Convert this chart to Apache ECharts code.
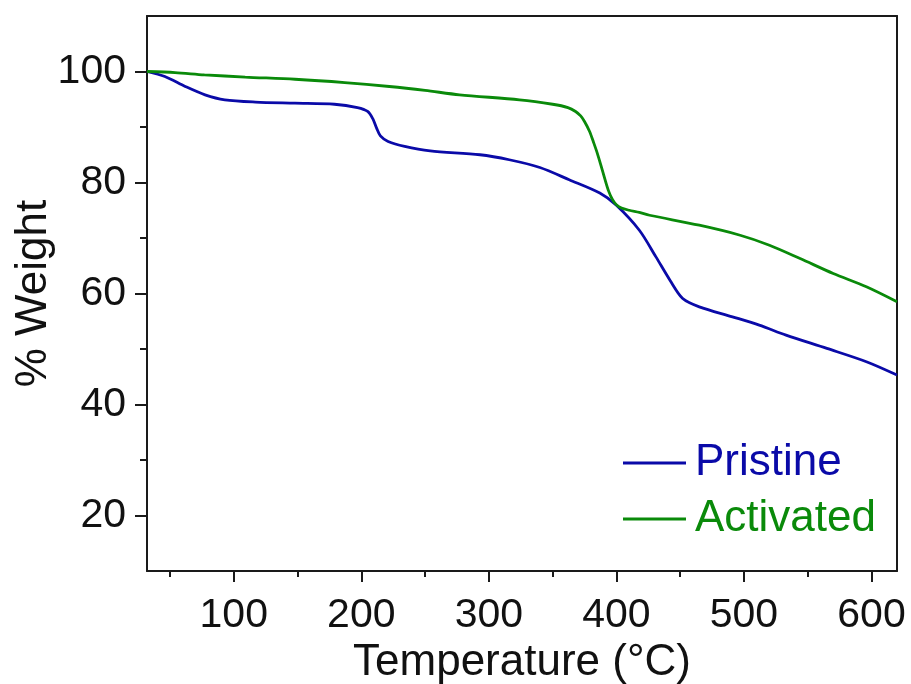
<!DOCTYPE html>
<html>
<head>
<meta charset="utf-8">
<script src="https://cdn.jsdelivr.net/npm/echarts@6/dist/echarts.min.js"></script>
<style>
  html, body { margin: 0; padding: 0; background: #ffffff; }
  #chart { width: 911px; height: 684px; }
</style>
</head>
<body>
<div id="chart"></div>
<script>
// Thermogravimetric curves: temperature (°C) vs remaining weight (%)
const pristine = [
  [32, 100], [46, 99.1], [62, 97.3], [77.5, 95.8], [93, 94.9], [117, 94.5],
  [148, 94.3], [179, 94.1], [197, 93.5], [205, 92.8], [209, 91.5], [212, 89.8],
  [215, 88.4], [221, 87.4], [234, 86.5], [254, 85.7], [293, 85.0], [316, 84.1],
  [340, 82.7], [363, 80.5], [387, 78.1], [400, 75.9], [418, 71.4], [431, 66.6],
  [442, 62.4], [452, 59.1], [465, 57.6], [491, 55.8], [512, 54.3], [533, 52.5],
  [565, 50.1], [596, 47.7], [620, 45.3]
];
const activated = [
  [32, 100], [54, 99.8], [77, 99.4], [109, 99.0], [148, 98.6], [187, 98.0],
  [222, 97.3], [250, 96.6], [277, 95.8], [324, 94.9], [350, 94.1], [362, 93.5],
  [368, 92.8], [372, 92.0], [375, 91.0], [379, 89.2], [382, 87.3], [385, 85.3],
  [388, 83.0], [391, 80.6], [394, 78.4], [397, 76.9], [400, 76.0], [404, 75.4],
  [410, 75.0], [418, 74.6], [426, 74.1], [465, 72.3], [497, 70.5], [520, 68.7],
  [544, 66.3], [570, 63.6], [596, 61.2], [620, 58.5]
];
const seriesNames = ['Pristine', 'Activated'];
const seriesColors = ['#0a0aa8', '#0a8a0a'];

const xRange = [32, 620];
const yRange = [10, 110];
const xMajor = [100, 200, 300, 400, 500, 600];
const xMinor = [50, 150, 250, 350, 450, 550];
const yMajor = [20, 40, 60, 80, 100];
const yMinor = [30, 50, 70, 90];

const FONT = '"Liberation Sans", Arial, sans-serif';
const INK = '#111111';
const axisLineStyle = { color: '#1a1a1a', width: 2 };

const chart = echarts.init(document.getElementById('chart'), null, { renderer: 'canvas' });

function baseAxis(extra) {
  return Object.assign({
    type: 'value',
    splitLine: { show: false },
    axisLine: { show: true, onZero: false, lineStyle: axisLineStyle },
    axisTick: { show: false },
    axisLabel: { show: false }
  }, extra);
}

chart.setOption({
  backgroundColor: '#ffffff',
  animation: false,
  grid: { left: 147, top: 16, width: 750, height: 555, containLabel: false, outerBoundsMode: 'none' },
  legend: {
    orient: 'vertical',
    left: 618,
    top: 436,
    itemWidth: 63,
    itemHeight: 3,
    itemGap: 12,
    icon: 'rect',
    textStyle: { fontFamily: FONT, fontSize: 44, padding: [0, 0, 0, 4] },
    data: seriesNames.map((n, i) => ({ name: n, textStyle: { color: seriesColors[i] } }))
  },
  xAxis: [
    baseAxis({
      min: xRange[0], max: xRange[1], position: 'bottom',
      name: 'Temperature (°C)', nameLocation: 'middle', nameGap: 70, nameMoveOverlap: false,
      nameTextStyle: { fontFamily: FONT, fontSize: 44, color: INK },
      axisTick: { show: true, customValues: xMajor, length: 11, lineStyle: axisLineStyle },
      axisLabel: { show: true, customValues: xMajor, margin: 24, fontFamily: FONT, fontSize: 41, color: INK }
    }),
    baseAxis({
      min: xRange[0], max: xRange[1], position: 'bottom',
      axisLine: { show: false },
      axisTick: { show: true, customValues: xMinor, length: 6, lineStyle: axisLineStyle }
    }),
    baseAxis({ min: xRange[0], max: xRange[1], position: 'top' })
  ],
  yAxis: [
    baseAxis({
      min: yRange[0], max: yRange[1], position: 'left',
      name: '% Weight', nameLocation: 'middle', nameGap: 91, nameMoveOverlap: false,
      nameTextStyle: { fontFamily: FONT, fontSize: 44, color: INK },
      axisTick: { show: true, customValues: yMajor, length: 12, lineStyle: axisLineStyle },
      axisLabel: { show: true, customValues: yMajor, margin: 21, fontFamily: FONT, fontSize: 41, color: INK }
    }),
    baseAxis({
      min: yRange[0], max: yRange[1], position: 'left',
      axisLine: { show: false },
      axisTick: { show: true, customValues: yMinor, length: 7, lineStyle: axisLineStyle }
    }),
    baseAxis({ min: yRange[0], max: yRange[1], position: 'right' })
  ],
  series: [pristine, activated].map((d, i) => ({
    name: seriesNames[i],
    type: 'line',
    xAxisIndex: 0,
    yAxisIndex: 0,
    data: d,
    showSymbol: false,
    symbol: 'none',
    smooth: 0.3,
    clip: true,
    color: seriesColors[i],
    lineStyle: { color: seriesColors[i], width: 2.8 }
  }))
});
</script>
</body>
</html>
